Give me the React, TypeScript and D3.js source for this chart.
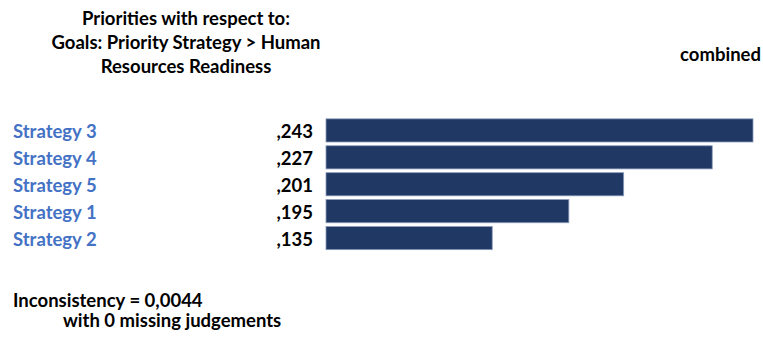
import React from "react";
import * as d3 from "d3";

const titleLines = ["Priorities with respect to:", "Goals: Priority Strategy > Human", "Resources Readiness"];
const categories = ["Strategy 3", "Strategy 4", "Strategy 5", "Strategy 1", "Strategy 2"];
const valueLabels = [",243", ",227", ",201", ",195", ",135"];
const values = [0.243, 0.227, 0.201, 0.195, 0.135];
// bar lengths (same units as the top bar's value)
const barMeasure = [0.243, 0.2198, 0.1694, 0.1382, 0.0946];
const columnLabel = "combined";
const footerLines = ["Inconsistency = 0,0044", "with 0 missing judgements"];

const W = 763;
const H = 338;
const FONT = "Lato, 'Open Sans', sans-serif";

export default function App() {
  const y = d3
    .scaleBand<string>()
    .domain(categories)
    .range([117.5, 251])
    .paddingInner(0.14)
    .paddingOuter(0.05);
  const x = d3.scaleLinear().domain([0, 0.243]).range([326, 753]);

  return (
    <svg
      width={W}
      height={H}
      style={{ position: "absolute", left: 0, top: 0, background: "#fff" }}
      fontFamily={FONT}
      fontWeight={700}
    >
      {titleLines.map((t, i) => (
        <text key={t} x={186} y={18 + i * 24} textAnchor="middle" dominantBaseline="central" fontSize={18.5} fill="#000">
          {t}
        </text>
      ))}
      <text x={761} y={54} textAnchor="end" dominantBaseline="central" fontSize={18.5} fill="#000">
        {columnLabel}
      </text>
      {categories.map((c, i) => {
        const yy = y(c)!;
        const cy = yy + y.bandwidth() / 2;
        return (
          <g key={c}>
            <text x={13} y={cy + 1} dominantBaseline="central" fontSize={18.5} fill="#4472C4">
              {c}
            </text>
            <text x={313} y={cy + 1} textAnchor="end" dominantBaseline="central" fontSize={18.5} fill="#000">
              {valueLabels[i]}
            </text>
            <rect
              x={x(0)}
              y={yy}
              width={x(barMeasure[i]) - x(0)}
              height={y.bandwidth()}
              fill="#203864"
              stroke="#8a9bbb"
              strokeWidth={0.8}
              data-value={values[i]}
            />
          </g>
        );
      })}
      <text x={13} y={300} dominantBaseline="central" fontSize={18.5} fill="#000">
        {footerLines[0]}
      </text>
      <text x={63} y={320} dominantBaseline="central" fontSize={18.5} fill="#000">
        {footerLines[1]}
      </text>
    </svg>
  );
}
